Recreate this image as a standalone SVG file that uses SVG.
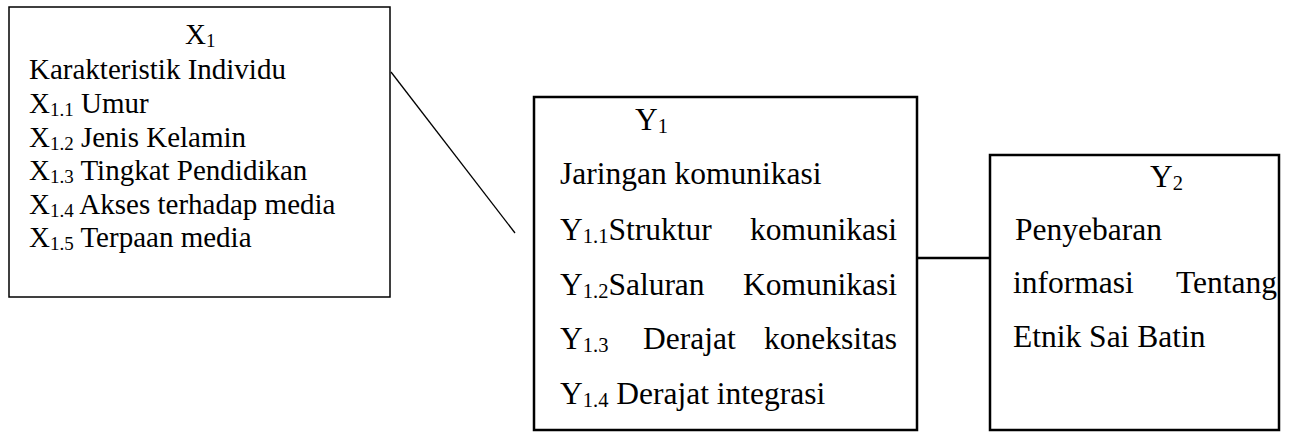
<svg xmlns="http://www.w3.org/2000/svg" width="1293" height="432" viewBox="0 0 1293 432" font-family="'Liberation Serif', 'Times New Roman', 'DejaVu Serif', serif">
<style>
text{font-family:'Liberation Serif','Times New Roman','DejaVu Serif',serif;fill:#000}
.x{font-size:29px}
.y{font-size:31.5px}
.s{font-size:19px}
.t{font-size:20.5px}
.box{fill:#fff;stroke:#000}
.thin{stroke-width:1.5}
.thick{stroke-width:2.5}
.conn{stroke:#000;fill:none}
</style>
<rect width="1293" height="432" fill="#fff"/>
<g id="connectors">
<line class="conn" x1="391" y1="72" x2="515" y2="233" stroke-width="1.3"/>
<line class="conn" x1="917" y1="258" x2="990" y2="258" stroke-width="2.5"/>
</g>
<g id="X1">
<rect class="box thin" x="9" y="7" width="381" height="290"/>
<text class="x" x="185" y="44">X<tspan class="s" dy="3">1</tspan></text>
<text class="x" x="29" y="79">Karakteristik Individu</text>
<text class="x" x="29" y="113">X<tspan class="s" dy="3">1.1</tspan><tspan dy="-3"> Umur</tspan></text>
<text class="x" x="29" y="147">X<tspan class="s" dy="3">1.2</tspan><tspan dy="-3"> Jenis Kelamin</tspan></text>
<text class="x" x="29" y="180">X<tspan class="s" dy="3">1.3</tspan><tspan dy="-3"> Tingkat Pendidikan</tspan></text>
<text class="x" x="29" y="214">X<tspan class="s" dy="3">1.4</tspan><tspan dy="-3"> Akses terhadap media</tspan></text>
<text class="x" x="29" y="247">X<tspan class="s" dy="3">1.5</tspan><tspan dy="-3"> Terpaan media</tspan></text>
</g>
<g id="Y1">
<rect class="box thick" x="534" y="97" width="383" height="333"/>
<text class="y" x="635" y="130">Y<tspan class="t" dy="3">1</tspan></text>
<text class="y" x="560" y="184">Jaringan komunikasi</text>
<text class="y" x="560" y="240">Y<tspan class="t" dy="3">1.1</tspan><tspan dy="-3">Struktur</tspan></text>
<text class="y" x="897" y="240" text-anchor="end">komunikasi</text>
<text class="y" x="560" y="295">Y<tspan class="t" dy="3">1.2</tspan><tspan dy="-3">Saluran</tspan></text>
<text class="y" x="897" y="295" text-anchor="end">Komunikasi</text>
<text class="y" x="560" y="349">Y<tspan class="t" dy="3">1.3</tspan></text>
<text class="y" x="643" y="349">Derajat</text>
<text class="y" x="897" y="349" text-anchor="end">koneksitas</text>
<text class="y" x="560" y="404">Y<tspan class="t" dy="3">1.4</tspan><tspan dy="-3"> Derajat integrasi</tspan></text>
</g>
<g id="Y2">
<rect class="box thick" x="990" y="155" width="289" height="275"/>
<text class="y" x="1150" y="187">Y<tspan class="t" dy="3">2</tspan></text>
<text class="y" x="1015" y="240">Penyebaran</text>
<text class="y" x="1013" y="293">informasi</text>
<text class="y" x="1277" y="293" text-anchor="end">Tentang</text>
<text class="y" x="1013" y="347">Etnik Sai Batin</text>
</g>
</svg>
